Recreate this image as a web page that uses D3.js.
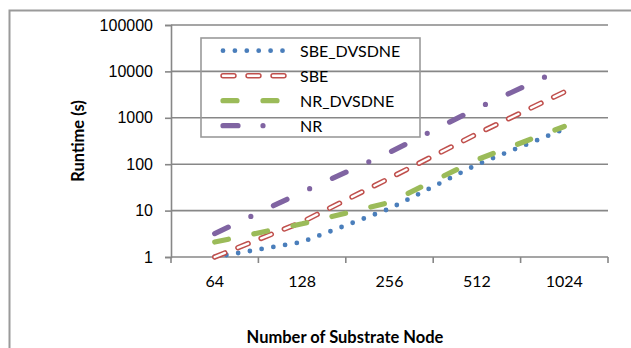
<!DOCTYPE html>
<html>
<head>
<meta charset="utf-8">
<script src="https://cdn.jsdelivr.net/npm/d3@7"></script>
<style>
  body { margin: 0; background: #fff; }
  svg { display: block; font-family: Lato, "Liberation Sans", sans-serif; }
</style>
</head>
<body>
<svg id="chart" width="631" height="348"></svg>
<script>
// Chart data (runtime in seconds, log scale)
const nodeCounts = ["64", "128", "256", "512", "1024"];
const seriesNames = ["SBE_DVSDNE", "SBE", "NR_DVSDNE", "NR"];
const sbeDvsdne = [1.0, 2.1, 11, 98, 570];
const sbe = [1.0, 5.7, 50, 450, 3600];
const nrDvsdne = [2.1, 5.2, 15, 125, 650];
const nr = [3.2, 25, 180, 1600, 11800];
const yTicks = [1, 10, 100, 1000, 10000, 100000];

// Line styles, one per series (same order as seriesNames)
const lineStyles = [
    { color: "#4a7ebb", width: 4.8, dash: "0 11.9", hollow: false },
    { color: "#c0504d", width: 5.4, dash: "11 14", hollow: true },
    { color: "#9bbb59", width: 5.2, dash: "14 26", hollow: false },
    { color: "#8064a2", width: 5.2, dash: "15 25 0 25", hollow: false }
];
const seriesValues = [sbeDvsdne, sbe, nrDvsdne, nr];

const svg = d3.select("#chart");
const plot = { left: 171, right: 608, top: 25, bottom: 257 };
const gridColor = "#878787";

// outer chart border (right/bottom edges fall outside the picture)
svg.append("rect")
    .attr("x", 9.5).attr("y", 10.5)
    .attr("width", 700).attr("height", 400)
    .attr("fill", "none").attr("stroke", "#9a9a9a").attr("stroke-width", 2);

const x = d3.scaleBand().domain(nodeCounts).range([plot.left, plot.right]).padding(0);
const y = d3.scaleLog().domain([1, 100000]).range([plot.bottom, plot.top]);

// horizontal gridlines
svg.append("g").selectAll("line").data(yTicks.slice(1)).join("line")
    .attr("x1", plot.left).attr("x2", plot.right)
    .attr("y1", d => y(d)).attr("y2", d => y(d))
    .attr("stroke", gridColor).attr("stroke-width", 1.6);

// y axis
const yAxis = d3.axisLeft(y).tickValues(yTicks).tickFormat(d3.format("d")).tickSize(6).tickPadding(12);
const gy = svg.append("g").attr("transform", `translate(${plot.left},0)`).call(yAxis);
gy.select(".domain").attr("stroke", gridColor).attr("stroke-width", 1.6);
gy.selectAll(".tick line").attr("stroke", gridColor).attr("stroke-width", 1.6);
gy.selectAll(".tick text").attr("font-size", 16).attr("font-family", null).attr("fill", "#000");

// x axis: labels centred in bands, ticks on band boundaries
const gx = svg.append("g").attr("transform", `translate(0,${plot.bottom})`);
gx.append("line").attr("x1", plot.left).attr("x2", plot.right)
    .attr("stroke", gridColor).attr("stroke-width", 1.6);
const boundaries = nodeCounts.map(c => x(c)).concat([plot.right]);
gx.selectAll("line.tk").data(boundaries).join("line").attr("class", "tk")
    .attr("x1", d => d).attr("x2", d => d).attr("y1", 0).attr("y2", 6)
    .attr("stroke", gridColor).attr("stroke-width", 1.6);
gx.selectAll("text").data(nodeCounts).join("text")
    .attr("x", d => x(d) + x.bandwidth() / 2).attr("y", 30)
    .attr("text-anchor", "middle").attr("font-size", 16).attr("fill", "#000")
    .text(d => d);

// axis titles
svg.append("text")
    .attr("transform", `translate(84,${(plot.top + plot.bottom) / 2}) rotate(-90)`)
    .attr("text-anchor", "middle").attr("font-size", 16.5).attr("font-weight", "bold")
    .text("Runtime (s)");
svg.append("text")
    .attr("x", 345).attr("y", 343)
    .attr("text-anchor", "middle").attr("font-size", 16.5).attr("font-weight", "bold")
    .text("Number of Substrate Node");

// legend box (transparent, gridlines show through)
const legend = { x: 201, y: 38, w: 219, h: 99, rowY: 50.7, rowGap: 25, x1: 223, x2: 288, textX: 300 };
svg.append("rect")
    .attr("x", legend.x).attr("y", legend.y).attr("width", legend.w).attr("height", legend.h)
    .attr("fill", "none").attr("stroke", "#9a9a9a").attr("stroke-width", 1.6);

// draw a styled path (hollow style = coloured stroke with a white core)
function drawStyled(g, dAttr, st) {
    g.append("path").attr("d", dAttr).attr("fill", "none")
        .attr("stroke", st.color).attr("stroke-width", st.width)
        .attr("stroke-linecap", "round").attr("stroke-dasharray", st.dash);
    if (st.hollow) {
        g.append("path").attr("d", dAttr).attr("fill", "none")
            .attr("stroke", "#fff").attr("stroke-width", 2.4)
            .attr("stroke-linecap", "round").attr("stroke-dasharray", st.dash);
    }
}

seriesNames.forEach((name, i) => {
    const ry = legend.rowY + i * legend.rowGap;
    const g = svg.append("g");
    drawStyled(g, `M${legend.x1},${ry}L${legend.x2},${ry}`, lineStyles[i]);
    svg.append("text").attr("x", legend.textX).attr("y", ry)
        .attr("dominant-baseline", "central").attr("font-size", 16).attr("fill", "#000")
        .text(name);
});

// series lines
const line = d3.line()
    .x((d, j) => x(nodeCounts[j]) + x.bandwidth() / 2)
    .y(d => y(d));
seriesValues.forEach((vals, i) => {
    drawStyled(svg.append("g"), line(vals), lineStyles[i]);
});
</script>
</body>
</html>
